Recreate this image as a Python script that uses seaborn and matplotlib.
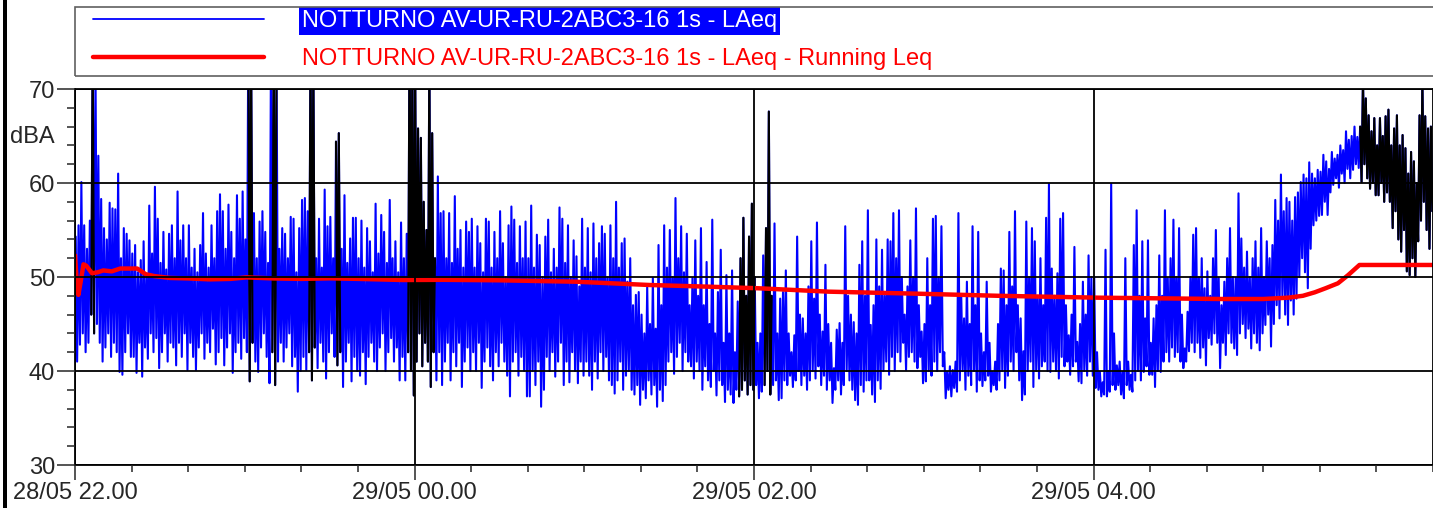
import numpy as np
import pandas as pd
import matplotlib
matplotlib.use("Agg")
import matplotlib.pyplot as plt
import matplotlib.dates as mdates
from matplotlib.ticker import MultipleLocator
from matplotlib.patches import Rectangle
import seaborn as sns

sns.set_style("ticks")
plt.rcParams['font.family'] = ['Liberation Sans', 'DejaVu Sans']
_fontsize = 17

label_laeq = "NOTTURNO AV-UR-RU-2ABC3-16 1s - LAeq"
label_run = "NOTTURNO AV-UR-RU-2ABC3-16 1s - LAeq - Running Leq"
start = pd.Timestamp("2016-05-28 22:00")

laeq_hi = [
    54.3, 55.5, 60.1, 55.5, 53, 56, 75, 72, 62.9, 58.3, 55.2, 54, 57.9, 57.3, 57.2, 61, 52, 55.2, 54.6, 53.9,
    52.5, 53.4, 50.5, 51.8, 53.8, 50, 57.6, 52.5, 59.6, 56.2, 51.5, 54.8, 50.8, 54.6, 55.5, 52, 59.1, 53.9, 55.5, 52,
    55.5, 51, 53, 50.5, 53.4, 56.8, 52.5, 51, 55.5, 52, 57, 58.8, 57, 53, 57.7, 54.8, 52, 58.7, 56.2, 59.1,
    54, 76, 74, 56.8, 52, 55.9, 57, 54.8, 51.5, 73, 76, 72, 53, 55.2, 54.6, 52, 56.4, 56.2, 50.5, 55.2,
    58.2, 58.4, 57, 75, 73, 52, 56.2, 51, 59.3, 55.4, 56.4, 52, 64.4, 65.3, 53, 58.7, 51.5, 54.1, 56.3, 56.3,
    52, 56, 51, 55.2, 53.8, 50.5, 57.8, 52.5, 56.6, 54.8, 51.5, 58.2, 52, 53.8, 50.5, 55.8, 52, 54.6, 77, 74,
    72, 65.8, 64.8, 58, 55, 74, 65.3, 52, 60.7, 56.8, 57, 52, 56.8, 51.5, 58.6, 53, 55, 51, 55.9, 54.8,
    56.2, 51, 55.4, 53.6, 50.5, 56.2, 55.9, 51, 54.8, 52, 57, 53.6, 50, 55.5, 57.5, 56.1, 51.5, 55.4, 52, 55.9,
    52, 57.6, 51, 54.5, 53.4, 50, 54.3, 56.1, 50.5, 53, 51, 57.4, 56.2, 51.5, 55.5, 50, 53.9, 52.2, 49, 56.2,
    51, 55.2, 50.5, 55.7, 52, 53.6, 55.4, 54.6, 50, 55.5, 52, 58, 51, 53.6, 54.1, 49.5, 52, 47, 48.1, 48.4,
    46, 44, 49, 45, 49.9, 44.5, 53.4, 47, 55.5, 51, 55, 50, 58.4, 52, 55.4, 50.5, 54.6, 47, 49.9, 53.9,
    48, 55.2, 47, 51.6, 45, 56.1, 44, 48.4, 52.9, 43, 50.2, 44, 50.7, 42, 47.4, 52, 56.3, 48, 54.3, 57.8,
    50, 43, 44, 52.3, 55.2, 67.6, 48, 55.7, 44, 47.7, 48.4, 50.7, 44, 42, 43.8, 54.3, 46, 45.6, 44, 49,
    53.8, 47.7, 55.8, 46, 44.2, 51.3, 45, 43, 40.3, 44.4, 45.1, 43, 55.4, 48, 46, 45.2, 44, 51.3, 53.8, 48,
    57.1, 44.9, 47, 54, 49, 52.9, 48, 54, 53.8, 56.8, 52, 57.1, 50, 46, 49, 53.9, 50, 57.3, 47, 44.2,
    45, 52, 47, 56.2, 56.5, 50, 55.4, 42, 39.9, 40.5, 40.1, 41, 56.8, 48, 45.6, 49.5, 45, 55.4, 47, 54.8,
    44, 42, 49.5, 43, 39.9, 41, 45, 50.9, 50.7, 47, 54.8, 49, 57, 47, 45.6, 42.1, 55.9, 50, 55.2, 53.8,
    48, 52, 47, 56.3, 59.9, 50.9, 48, 50.4, 56.2, 56.8, 47, 43.8, 46, 53.2, 43.1, 45, 49.5, 46, 52.3, 50,
    50, 42, 39.9, 38.8, 52.9, 40, 59.9, 44, 40.6, 41, 39.9, 52, 41, 39.6, 53.4, 57.1, 48, 53.8, 45.6, 53.9,
    43, 45.6, 47, 52.3, 48, 57.1, 49.9, 52, 56.1, 50, 55.2, 46, 42.4, 46.3, 50, 54.5, 55.2, 50, 52, 48.8,
    50.6, 48, 52, 55, 49.9, 47, 49.5, 52, 55.2, 50, 49.9, 58.9, 54.1, 51, 52.7, 50, 52, 53.8, 51, 55.2,
    50, 53.8, 52, 53.4, 58.2, 56, 60.9, 57, 58.4, 58, 56, 58.5, 59, 60.1, 60.9, 60.5, 62.2, 61, 60.5, 61.4,
    61.2, 63, 62.3, 61.5, 63.3, 62.6, 63, 64, 63.5, 65.5, 64.6, 65, 66, 64.9, 66, 71, 69, 67.2, 65.5, 66.9,
    64, 66.9, 65, 67.1, 67.8, 64, 65.8, 67.2, 64, 65.1, 63.7, 61, 63.3, 62.3, 60, 67.2, 71, 67.1, 65.8, 66,
]
laeq_lo = [
    41, 42.8, 44, 42, 43, 46, 44, 45, 43, 41, 42.5, 44, 41.5, 43, 42, 39.9, 39.6, 42, 44, 41.5,
    41.5, 39.8, 43, 39.4, 42.5, 41.3, 44, 42, 43.5, 40.3, 42, 44, 41, 43, 42.5, 40.6, 43, 41.5, 44, 40.1,
    43, 41.5, 40.1, 42.5, 44, 41.3, 43, 42, 44.5, 40.7, 42, 43.5, 40.6, 42.5, 44, 39.8, 42, 43, 41.3, 43.5,
    42, 38.9, 43, 41, 39.9, 42.5, 44, 41.5, 38.7, 42, 38.5, 41, 43, 41, 42.5, 44, 40.5, 41.5, 37.8, 40,
    41.5, 40.1, 42, 39, 42.5, 40.3, 43, 41, 39.2, 42, 44, 41.5, 40.6, 42, 38.3, 41, 43, 38.9, 41.5, 40,
    39.5, 42, 38.6, 41.5, 43, 41, 40, 42.5, 44, 40, 42, 43.5, 41, 42.5, 39, 41.5, 39, 42, 40, 37.4,
    41, 44, 40.5, 43, 41, 38.3, 42, 39, 42, 38.5, 41, 43, 39, 42, 40.5, 43, 38.3, 41, 42.5, 40,
    42, 40, 43, 38.2, 41, 42.5, 40.5, 39, 42, 40.5, 43, 41, 39.5, 37.3, 41, 42, 39.5, 41.5, 40, 37.3,
    37.3, 40, 38.5, 41, 36.2, 38, 41.5, 40, 42, 39.4, 41, 43, 38.5, 41, 38.8, 42, 40, 38.7, 41, 39.5,
    41, 39.5, 38, 41, 39.2, 42, 40, 41.5, 39, 38.5, 37.6, 39, 41, 38, 39.5, 40, 38, 37.5, 38.5, 36.4,
    38, 37.1, 39, 37.5, 38.5, 36.2, 38, 36.8, 38.5, 41, 42, 39.7, 41.5, 43, 40, 42, 41, 40.5, 39.2, 41,
    40, 38, 40.5, 39, 38.3, 40, 37.4, 39, 38.5, 36.7, 38, 37.5, 36.6, 38, 37.3, 38, 39, 37.5, 38.5, 38,
    38.5, 37.1, 37.8, 38.5, 40, 37.5, 38.5, 39, 36.9, 37.1, 39, 38.5, 39.5, 38.3, 39, 40, 38.5, 39.5, 38, 39,
    40, 39.2, 40.5, 38.5, 39.5, 38, 39, 36.6, 38, 39, 37.5, 38.5, 40, 39, 38, 36.9, 36.4, 38.5, 37.8, 39,
    39, 37.5, 36.7, 39, 38.1, 40, 41, 39.6, 41.5, 40, 42, 41, 43, 40.1, 41.5, 42, 41, 40.3, 41.5, 38.7,
    38.9, 40, 39.5, 41, 40, 42, 40.5, 37.1, 38, 37.3, 38.2, 37.8, 39, 40, 38, 39.5, 38.5, 40, 37.8, 39,
    38.4, 39, 39.5, 37.8, 38.5, 38, 39, 40, 38.2, 39.5, 41, 40, 42, 39, 36.9, 37.5, 40, 41, 38.3, 40,
    39.2, 40.5, 41, 40, 39.9, 41, 40, 39.2, 41.5, 40.5, 41, 39.6, 40.5, 41, 38.9, 38.7, 40, 39.5, 41, 39.5,
    38.2, 38, 37.3, 37.5, 37.3, 37.8, 38.5, 38, 38.5, 37.5, 37.1, 38.5, 38, 37.8, 39, 40, 39, 39.9, 40.5, 39.6,
    39.6, 38.3, 40, 39.9, 41, 42, 41, 42.5, 41.5, 42, 41, 40.3, 41, 42.1, 43, 42, 43, 41.4, 42.5, 40.6,
    43.5, 42.8, 44, 43, 40.3, 43, 41.7, 44, 43, 42.4, 41.7, 44, 45, 43.5, 44.5, 42.4, 44, 43, 42.2, 44,
    44.9, 46, 42.6, 45, 47, 45.6, 48, 46, 44.9, 47.5, 46, 47.7, 50, 52, 50.5, 48.8, 53, 55.5, 56, 56.5,
    56.6, 58, 56.6, 59, 59.8, 60.5, 59.5, 61, 60, 61.5, 60.5, 61.4, 62, 61.6, 60.1, 62, 60.5, 59.4, 60, 58.7,
    58.7, 60, 58, 59, 58, 55.2, 57, 54, 52.7, 55, 50.6, 50.2, 52, 50, 53.8, 56, 58, 55, 53, 57,
]

# stretches drawn in black (minutes after 22.00)
black_from = [5.3, 60.8, 69.3, 82.6, 92.2, 117.5, 234.6, 243.4, 453.9]
black_to = [7.2, 62.9, 71.6, 84.8, 94.2, 127.7, 240.7, 246.5, 480.0]

# running Leq (minutes after 22.00, dBA)
leq_min = [0, 0.5, 1.2, 2, 3, 4, 6, 8, 10, 13, 16, 22, 25, 28, 33.5, 40, 47.6, 55, 60.6, 70,
           80, 90, 100, 116, 130, 150, 177, 203, 224, 241.7, 266.4, 297, 326.5, 361.7, 405,
           420, 428.8, 434, 438.2, 442, 446.4, 450, 454, 480]
leq_val = [52.3, 50, 48.1, 49.5, 51.35, 51.2, 50.4, 50.5, 50.7, 50.6, 50.9, 50.9, 50.3, 50.1,
           49.9, 49.85, 49.75, 49.8, 49.96, 49.85, 49.8, 49.86, 49.8, 49.68, 49.7, 49.65, 49.5,
           49.15, 48.97, 48.8, 48.44, 48.23, 48.0, 47.8, 47.66, 47.66, 47.8, 48.0, 48.37, 48.8,
           49.33, 50.2, 51.28, 51.28]

minute = np.arange(len(laeq_hi))
tmin = np.column_stack([minute + 0.25, minute + 0.75]).ravel()
vals = np.column_stack([laeq_hi, laeq_lo]).ravel()
df = pd.DataFrame({"tmin": tmin, "dBA": vals})
df["time"] = start + pd.to_timedelta(df["tmin"], unit="min")

parts = []
for k, (a, b) in enumerate(zip(black_from, black_to)):
    sub = df[(df.tmin >= a) & (df.tmin <= b)].copy()
    sub["seg"] = k
    parts.append(sub)
bdf = pd.concat(parts)

rdf = pd.DataFrame({"tmin": leq_min, "dBA": leq_val})
rdf["time"] = start + pd.to_timedelta(rdf["tmin"], unit="min")

W, H = 1433, 508
fig = plt.figure(figsize=(W / 100, H / 100), dpi=100)
ax = fig.add_axes([75 / W, 1 - 465 / H, (1433 - 75) / W, (465 - 89) / H])

sns.lineplot(data=df, x="time", y="dBA", color="#0000ff", lw=1.5, estimator=None,
             sort=False, ax=ax, label=label_laeq)
sns.lineplot(data=bdf, x="time", y="dBA", units="seg", color="black", lw=1.5,
             estimator=None, sort=False, ax=ax, legend=False)
sns.lineplot(data=rdf, x="time", y="dBA", color="#ff0000", lw=3.2, estimator=None,
             ax=ax, label=label_run)

ax.set_xlim(start, start + pd.Timedelta(hours=8))
ax.set_ylim(30, 70)
ax.set_yticks([30, 40, 50, 60, 70])
ax.yaxis.set_minor_locator(MultipleLocator(2))
ax.xaxis.set_major_locator(mdates.HourLocator(byhour=[22, 0, 2, 4]))
ax.xaxis.set_minor_locator(mdates.MinuteLocator(byminute=[0, 20, 40]))
ax.xaxis.set_major_formatter(mdates.DateFormatter("%d/%m %H.%M"))
ax.set_xlabel("")
ax.set_ylabel("")
ax.grid(which="major", color="black", lw=1.3)
ax.set_axisbelow(False)
for s in ax.spines.values():
    s.set_color("black")
    s.set_linewidth(1.3)
ax.tick_params(axis="y", which="major", length=13, width=1.1, pad=1.5, labelsize=_fontsize)
ax.tick_params(axis="y", which="minor", length=6, width=1.1)
ax.tick_params(axis="x", which="major", length=11, width=1.1, pad=1, labelsize=_fontsize)
ax.tick_params(axis="x", which="minor", length=5, width=1.1)

fig.text(10 / W, 1 - 137 / H, "dBA", fontsize=_fontsize, ha="left", va="center")

handles, labels = ax.get_legend_handles_labels()
leg = ax.legend(handles, labels, loc="upper left", bbox_to_anchor=(93 / W, 1 - 10 / H),
                bbox_transform=fig.transFigure, frameon=False, fontsize=_fontsize,
                borderpad=0, borderaxespad=0, handlelength=7.25, handletextpad=1.6,
                labelspacing=0.68)
txt = leg.get_texts()
txt[0].set_color("white")
txt[0].set_bbox(dict(boxstyle="square,pad=0.12", fc="#0000ff", ec="none"))
txt[1].set_color("#ff0000")
leg.get_lines()[0].set_linewidth(1.3)
leg.get_lines()[1].set_linewidth(3.2)

fig.add_artist(Rectangle((75 / W, 1 - 76 / H), (1445 - 75) / W, 69 / H,
                         transform=fig.transFigure, fill=False, ec="#606060", lw=1.2))
fig.add_artist(Rectangle((3 / W, 0), 4 / W, 1, transform=fig.transFigure,
                         fc="black", ec="none"))

plt.savefig("out.png", dpi=100)
